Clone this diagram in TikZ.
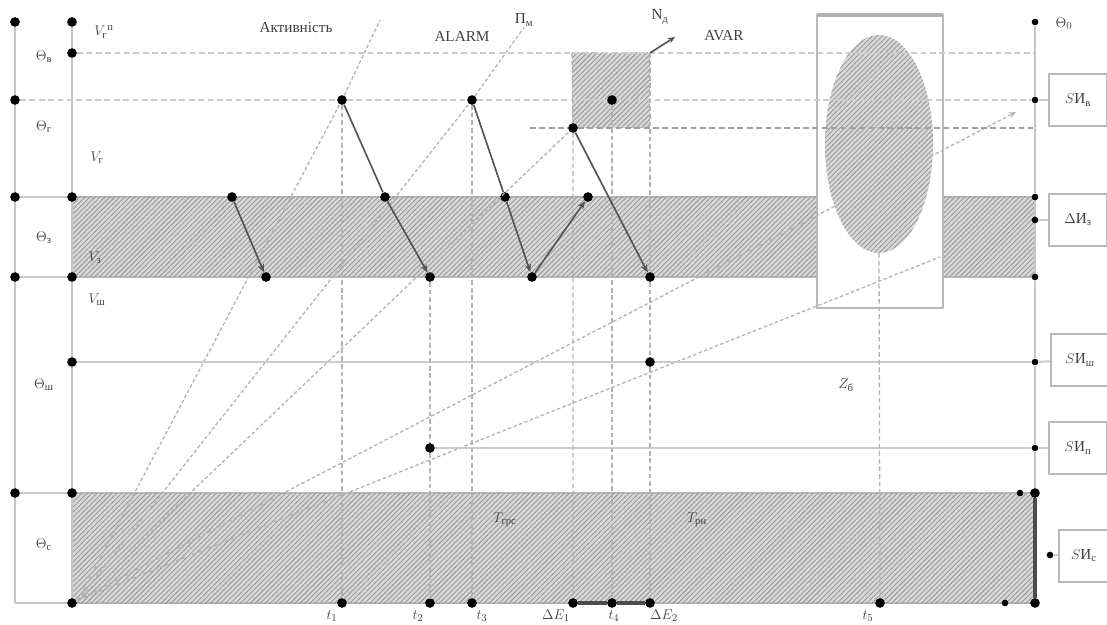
\documentclass[tikz,border=0pt]{standalone}
\usepackage{amsmath}
\usepackage{fontspec}
\setmainfont{Liberation Serif}
\usetikzlibrary{arrows.meta, patterns.meta, shapes.geometric}

\begin{document}
\begin{tikzpicture}[x=0.03cm, y=-0.03cm,
  dot/.style={circle, fill=black, inner sep=0pt, minimum size=0.29cm},
  smalldot/.style={circle, fill=black, inner sep=0pt, minimum size=0.2cm},
  axisln/.style={gray!45, line width=2.4pt},
  levelln/.style={gray!40, line width=1.8pt},
  guide/.style={gray!40, line width=1.8pt, dash pattern=on 5pt off 3pt},
  guidedark/.style={gray!75, line width=2pt, dash pattern=on 5pt off 3pt},
  drop/.style={gray!60, line width=1.1pt, dash pattern=on 4pt off 2.5pt},
  ray/.style={gray!60, line width=1.1pt, dash pattern=on 3pt off 2pt},
  zig/.style={gray!65!black, line width=1.4pt},
  zigarr/.style={zig, -{Stealth[length=7pt, width=5.5pt]}},
  hatched/.style={fill=gray!30, postaction={pattern={Lines[angle=45, distance=3pt, line width=0.8pt]}, pattern color=gray!80}},
  lbl/.style={text=black!75, font=\fontsize{13}{15}\selectfont, inner sep=1pt},
  sibox/.style={draw=gray!55, line width=1.8pt, fill=white, minimum width=1.74cm, minimum height=1.56cm, lbl}
]
  \useasboundingbox (0,0) rectangle (1107,625);

  % hatched bands and the hatched square
  \path[hatched, draw=gray!55, line width=1.4pt] (72,197) rectangle (1035,277);
  \path[hatched, draw=gray!55, line width=1.4pt] (72,493) rectangle (1035,603);
  \path[hatched] (572,53) rectangle (650,128);

  % white inside of the zone box
  \fill[white] (817,15) rectangle (943,308);

  % points on the two left axes
  \node[dot] (L0) at (15,22) {};
  \node[dot] (L1) at (15,100) {};
  \node[dot] (L2) at (15,197) {};
  \node[dot] (L3) at (15,277) {};
  \node[dot] (L4) at (15,493) {};
  \coordinate (L5) at (15,603);
  \node[dot] (A0) at (72,22) {};
  \node[dot] (A1) at (72,53) {};
  \node[dot] (A2) at (72,197) {};
  \node[dot] (A3) at (72,277) {};
  \node[dot] (A4) at (72,362) {};
  \node[dot] (A5) at (72,493) {};
  \node[dot] (A6) at (72,603) {};

  % points on the right axis
  \node[smalldot] (R0) at (1035,22) {};
  \node[smalldot] (R1) at (1035,100) {};
  \node[smalldot] (R2) at (1035,197) {};
  \node[smalldot] (R3) at (1035,220) {};
  \node[smalldot] (R4) at (1035,277) {};
  \node[smalldot] (R5) at (1035,362) {};
  \node[smalldot] (R6) at (1035,448) {};
  \node[smalldot] (R7) at (1020,493) {};
  \node[dot] (R8) at (1035,493) {};
  \node[smalldot] (R9) at (1050,555) {};
  \node[smalldot] (R10) at (1005,603) {};
  \node[dot] (R11) at (1035,603) {};

  % peaks and zigzag points
  \node[dot] (p1) at (342,100) {};
  \node[dot] (p2) at (472,100) {};
  \node[dot] (q2) at (612,100) {};
  \node[dot] (q1) at (573,128) {};
  \node[dot] (z1a) at (232,197) {};
  \node[dot] (z1b) at (266,277) {};
  \node[dot] (z2a) at (385,197) {};
  \node[dot] (z2b) at (430,277) {};
  \node[dot] (z3a) at (505,197) {};
  \node[dot] (z3b) at (532,277) {};
  \node[dot] (z4a) at (588,197) {};
  \node[dot] (z5b) at (650,277) {};
  \node[dot] (m1) at (650,362) {};
  \node[dot] (m2) at (430,448) {};

  % points on the time axis
  \node[dot] (b1) at (342,603) {};
  \node[dot] (b2) at (430,603) {};
  \node[dot] (b3) at (472,603) {};
  \node[dot] (b4) at (573,603) {};
  \node[dot] (b5) at (612,603) {};
  \node[dot] (b6) at (650,603) {};
  \node[dot] (b7) at (880,603) {};

  % free ends
  \coordinate (org) at (78,600);
  \coordinate (r1end) at (380,20);
  \coordinate (r4end) at (1016,112);
  \coordinate (r5end) at (940,257);
  \coordinate (e53) at (1035,53);
  \coordinate (s128) at (530,128);
  \coordinate (e128) at (1033,128);
  \coordinate (sqNW) at (572,53);
  \coordinate (sqNE) at (650,53);
  \coordinate (sqSE) at (650,128);
  \coordinate (ndtip) at (675,37);

  % labels on top
  \node[lbl] (act) at (296,28) {Активність};
  \node[lbl] (alarm) at (462,36) {ALARM};
  \node[lbl] (pm) at (524,20) {П$_{\text{м}}$};
  \node[lbl] (nd) at (660,17) {N$_{\text{д}}$};
  \node[lbl] (avar) at (724,36) {AVAR};

  % fan of rays from the origin
  \draw[ray] (org) -- (p1) -- (r1end);
  \draw[ray] (org) -- (p2) -- (pm.south);
  \draw[ray] (org) -- (q1);
  \draw[ray, -{Stealth[length=6pt, width=5pt]}] (org) -- (r4end);
  \draw[ray] (org) -- (r5end);

  % zone Z
  \node[ellipse, hatched, minimum width=3.24cm, minimum height=6.54cm] (zone) at (879,144) {};
  \draw[gray!55, line width=2.2pt] (817,15) rectangle (943,308);
  \draw[gray!60, line width=3.8pt] (817,15) -- (943,15);

  % axes
  \draw[axisln] (L0) -- (L1) -- (L2) -- (L3) -- (L4) -- (L5);
  \draw[axisln] (A0) -- (A1) -- (A2) -- (A3) -- (A4) -- (A5) -- (A6);
  \draw[axisln] (R0) -- (R1) -- (R2) -- (R3) -- (R4) -- (R5) -- (R6) -- (R8);
  \draw[gray!60!black, line width=2.6pt] (R8) -- (R11);
  \draw[axisln] (L5) -- (A6);
  \draw[levelln] (L2) -- (A2);
  \draw[levelln] (L3) -- (A3);
  \draw[levelln] (L4) -- (A5);

  % levels
  \draw[guide] (A1) -- (e53);
  \draw[guide] (L1) -- (p1) -- (p2) -- (q2) -- (R1);
  \draw[guidedark] (s128) -- (q1) -- (e128);
  \draw[levelln] (A4) -- (m1) -- (R5);
  \draw[levelln] (m2) -- (R6);
  \draw[gray!60!black, line width=2.6pt] (b4) -- (b5) -- (b6);

  % drops to the time axis
  \draw[drop] (p1) -- (b1);
  \draw[drop] (z2b) -- (m2) -- (b2);
  \draw[drop] (p2) -- (b3);
  \draw[drop] (sqNW) -- (q1) -- (b4);
  \draw[drop] (q2) -- (b5);
  \draw[drop] (sqNE) -- (sqSE) -- (z5b) -- (m1) -- (b6);
  \draw[drop] (zone.south) -- (b7);

  % zigzags
  \draw[zigarr] (z1a) -- (z1b);
  \draw[zigarr] (p1) -- (z2a) -- (z2b);
  \draw[zigarr] (p2) -- (z3a) -- (z3b);
  \draw[zigarr] (z3b) -- (z4a);
  \draw[zigarr] (q1) -- (z5b);
  \draw[zig, -{Stealth[length=6pt, width=5pt]}] (sqNE) -- (ndtip);

  % boxes on the right
  \node[sibox] (siv) at (1078,100) {$S\text{И}_{\text{в}}$};
  \node[sibox] (siz) at (1078,220) {$\Delta\text{И}_{\text{з}}$};
  \node[sibox] (sish) at (1080,360) {$S\text{И}_{\text{ш}}$};
  \node[sibox] (sip) at (1078,448) {$S\text{И}_{\text{п}}$};
  \node[sibox, minimum width=1.5cm] (sic) at (1084,556) {$S\text{И}_{\text{с}}$};
  \draw[levelln] (R1) -- (siv);
  \draw[levelln] (R3) -- (siz);
  \draw[levelln] (R5) -- (sish);
  \draw[levelln] (R6) -- (sip);
  \draw[levelln] (R9) -- (sic);

  % axis labels
  \node[lbl] (thv) at (44,57) {$\Theta_{\text{в}}$};
  \node[lbl] (thg) at (44,127) {$\Theta_{\text{г}}$};
  \node[lbl] (thz) at (44,238) {$\Theta_{\text{з}}$};
  \node[lbl] (thsh) at (44,385) {$\Theta_{\text{ш}}$};
  \node[lbl] (ths) at (44,545) {$\Theta_{\text{с}}$};
  \node[lbl] (thr) at (1064,24) {$\Theta_0$};
  \node[lbl] (vgp) at (104,32) {$V_{\text{г}}{}^{\text{п}}$};
  \node[lbl] (vg) at (97,158) {$V_{\text{г}}$};
  \node[lbl] (vz) at (95,258) {$V_{\text{з}}$};
  \node[lbl] (vsh) at (97,300) {$V_{\text{ш}}$};
  \node[lbl] (zb) at (846,385) {$Z_{\text{б}}$};
  \node[lbl] (tgrs) at (505,520) {$T_{\text{грс}}$};
  \node[lbl] (trn) at (697,520) {$T_{\text{рн}}$};

  % time labels
  \node[lbl] (t1) at (332,616) {$t_1$};
  \node[lbl] (t2) at (418,616) {$t_2$};
  \node[lbl] (t3) at (482,616) {$t_3$};
  \node[lbl] (de1) at (556,616) {$\Delta E_1$};
  \node[lbl] (t4) at (614,616) {$t_4$};
  \node[lbl] (de2) at (664,616) {$\Delta E_2$};
  \node[lbl] (t5) at (868,616) {$t_5$};
\end{tikzpicture}
\end{document}
